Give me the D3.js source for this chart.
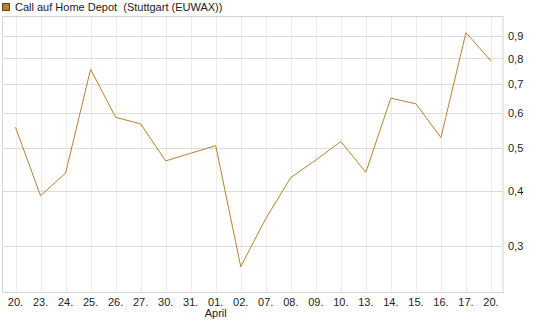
<!DOCTYPE html>
<html>
<head>
<meta charset="utf-8">
<script src="https://cdn.jsdelivr.net/npm/d3@7"></script>
<style>
  body { margin: 0; background: #fff; }
  svg { display: block; font-family: "Liberation Sans", Arial, sans-serif; }
</style>
</head>
<body>
<svg id="chart-svg" width="545" height="327"></svg>
<script>
// Chart data
const dayLabels = ["20.", "23.", "24.", "25.", "26.", "27.", "30.", "31.", "01.", "02.",
                   "07.", "08.", "09.", "10.", "13.", "14.", "15.", "16.", "17.", "20."];
const prices = [0.558, 0.390, 0.439, 0.756, 0.588, 0.568, 0.468, 0.487, 0.507, 0.269,
                0.346, 0.429, 0.470, 0.518, 0.441, 0.650, 0.631, 0.529, 0.916, 0.790];
const yTicks = [0.3, 0.4, 0.5, 0.6, 0.7, 0.8, 0.9];
const monthLabel = { index: 8, text: "April" };
const seriesName = "Call auf Home Depot  (Stuttgart (EUWAX))";

function createLineChart() {
    const size = { left: 2.5, right: 503, top: 16.5, bottom: 292.5 };
    const svg = d3.select("#chart-svg");
    const data = dayLabels.map((d, i) => ({ i: i, label: d, value: prices[i] }));

    // x: one band per trading day, point sits at band centre
    const xScale = d3.scaleBand()
        .domain(data.map(d => d.i))
        .range([size.left + 0.5, size.right + 0.5])
        .padding(0);
    const xPos = i => xScale(i) + xScale.bandwidth() / 2;

    // y: log scale
    const yScale = d3.scaleLog()
        .domain([0.235, 0.9966])
        .range([size.bottom, size.top]);

    // vertical grid
    svg.append("g")
        .selectAll("line")
        .data(data)
        .join("line")
        .attr("x1", d => Math.round(xPos(d.i)) + 0.5)
        .attr("x2", d => Math.round(xPos(d.i)) + 0.5)
        .attr("y1", size.top)
        .attr("y2", size.bottom)
        .attr("stroke", "#ececec");

    // horizontal grid
    svg.append("g")
        .selectAll("line")
        .data(yTicks)
        .join("line")
        .attr("x1", size.left)
        .attr("x2", size.right)
        .attr("y1", d => Math.round(yScale(d)) + 0.5)
        .attr("y2", d => Math.round(yScale(d)) + 0.5)
        .attr("stroke", "#dcdcdc");

    // plot frame
    svg.append("rect")
        .attr("x", size.left)
        .attr("y", size.top)
        .attr("width", size.right - size.left)
        .attr("height", size.bottom - size.top)
        .attr("fill", "none")
        .attr("stroke", "#d4d4d4");

    // price line
    const line = d3.line()
        .x(d => xPos(d.i))
        .y(d => yScale(d.value));
    svg.append("path")
        .datum(data)
        .attr("d", line)
        .attr("fill", "none")
        .attr("stroke", "#b5822f")
        .attr("stroke-width", 1);

    // right y axis labels
    const yAxis = svg.append("g")
        .attr("transform", `translate(${size.right}, 0)`)
        .call(d3.axisRight(yScale)
            .tickValues(yTicks)
            .tickSize(0)
            .tickPadding(5)
            .tickFormat(d => d3.format(".1f")(d).replace(".", ",")));
    yAxis.select(".domain").remove();
    yAxis.selectAll("text")
        .attr("font-size", 11)
        .attr("font-family", "Liberation Sans, Arial, sans-serif")
        .attr("fill", "#222");

    // bottom x axis labels
    const xAxis = svg.append("g")
        .attr("transform", `translate(0, ${size.bottom})`)
        .call(d3.axisBottom(xScale)
            .tickSize(0)
            .tickPadding(6)
            .tickFormat(i => dayLabels[i]));
    xAxis.select(".domain").remove();
    xAxis.selectAll("text")
        .attr("font-size", 11)
        .attr("font-family", "Liberation Sans, Arial, sans-serif")
        .attr("fill", "#222");

    // month label
    svg.append("text")
        .attr("x", xPos(monthLabel.index))
        .attr("y", 317)
        .attr("text-anchor", "middle")
        .attr("font-size", 11)
        .attr("fill", "#222")
        .text(monthLabel.text);

    // legend
    svg.append("rect")
        .attr("x", 2.5)
        .attr("y", 3.5)
        .attr("width", 7)
        .attr("height", 7)
        .attr("fill", "#b5822f")
        .attr("stroke", "#5a4420");
    svg.append("text")
        .attr("x", 15)
        .attr("y", 11)
        .attr("font-size", 11)
        .attr("fill", "#222")
        .style("white-space", "pre")
        .text(seriesName);
}

createLineChart();
</script>
</body>
</html>
